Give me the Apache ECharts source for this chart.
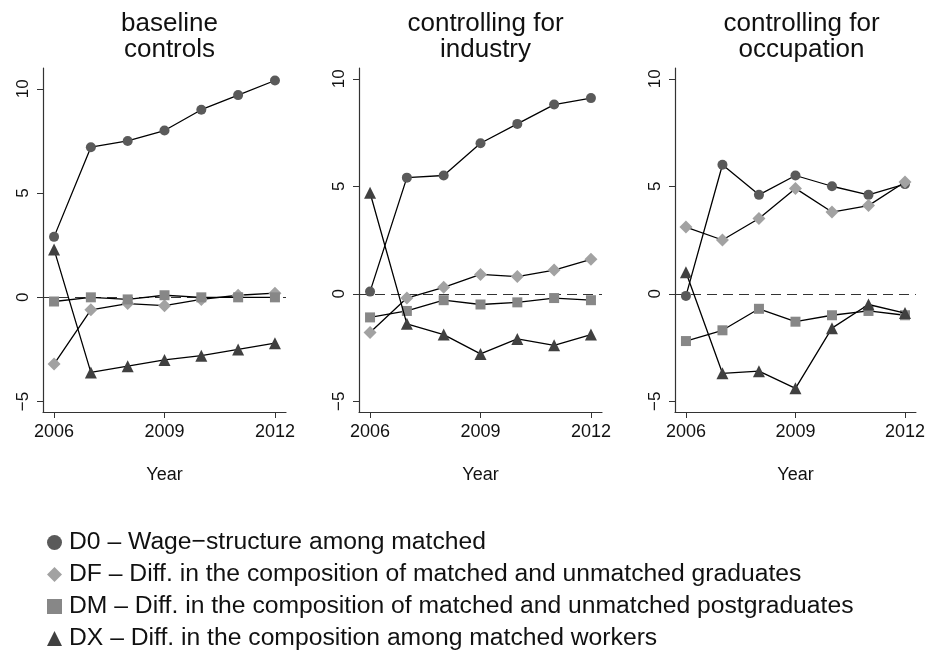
<!DOCTYPE html>
<html>
<head>
<meta charset="utf-8">
<script src="https://cdn.jsdelivr.net/npm/echarts@6/dist/echarts.min.js"></script>
<style>
  html, body { margin: 0; padding: 0; background: #fff; }
  #chart { width: 928px; height: 652px; }
</style>
</head>
<body>
<div id="chart"></div>
<script>
// panel data
const years = [2006, 2007, 2008, 2009, 2010, 2011, 2012];
const panelTitles = ['baseline\ncontrols', 'controlling for\nindustry', 'controlling for\noccupation'];
const seriesNames = [
  'D0 \u2013 Wage\u2212structure among matched',
  'DF \u2013 Diff. in the composition of matched and unmatched graduates',
  'DM \u2013 Diff. in the composition of matched and unmatched postgraduates',
  'DX \u2013 Diff. in the composition among matched workers'
];

// baseline controls
const baseD0 = [2.9, 7.2, 7.5, 8.0, 9.0, 9.7, 10.4];
const baseDF = [-3.2, -0.6, -0.3, -0.4, -0.1, 0.1, 0.2];
const baseDM = [-0.2, 0.0, -0.1, 0.1, 0.0, 0.0, 0.0];
const baseDX = [2.3, -3.6, -3.3, -3.0, -2.8, -2.5, -2.2];

// controlling for industry
const indD0 = [0.1, 5.4, 5.5, 7.0, 7.9, 8.8, 9.1];
const indDF = [-1.8, -0.2, 0.3, 0.9, 0.8, 1.1, 1.6];
const indDM = [-1.1, -0.8, -0.3, -0.5, -0.4, -0.2, -0.3];
const indDX = [4.7, -1.4, -1.9, -2.8, -2.1, -2.4, -1.9];

// controlling for occupation
const occD0 = [-0.1, 6.0, 4.6, 5.5, 5.0, 4.6, 5.1];
const occDF = [3.1, 2.5, 3.5, 4.9, 3.8, 4.1, 5.2];
const occDM = [-2.2, -1.7, -0.7, -1.3, -1.0, -0.8, -1.0];
const occDX = [1.0, -3.7, -3.6, -4.4, -1.6, -0.5, -0.9];

const yTicks = [-5, 0, 5, 10];
const xTicks = [2006, 2009, 2012];
const yMax = [11, 10.5, 10.5];
const yMin = -5.5;

const panels = [
  [baseD0, baseDF, baseDM, baseDX],
  [indD0, indDF, indDM, indDX],
  [occD0, occDF, occDM, occDX]
];

const symbols = ['circle', 'diamond', 'rect', 'triangle'];
const symbolSizes = [10, 13, 10, 12];
const symbolColors = ['#5a5a5a', '#a2a2a2', '#878787', '#404040'];

const font = 'Liberation Sans, Arial, Helvetica, sans-serif';
const gridLefts = [43, 359, 675];
const gridWidth = 243;

const chart = echarts.init(document.getElementById('chart'), null, { renderer: 'canvas' });

const grids = [], xAxes = [], yAxes = [], titles = [], series = [];

panels.forEach((panel, p) => {
  grids.push({ left: gridLefts[p], top: 68, width: gridWidth, height: 344 });
  titles.push({
    text: panelTitles[p],
    left: gridLefts[p] + gridWidth / 2,
    top: 6,
    textAlign: 'center',
    textStyle: { fontFamily: font, fontSize: 26, fontWeight: 'normal', color: '#111', lineHeight: 26 }
  });
  xAxes.push({
    type: 'value', gridIndex: p, min: 2005.7, max: 2012.3,
    name: 'Year', nameLocation: 'middle', nameGap: 54,
    nameTextStyle: { fontFamily: font, fontSize: 18, color: '#111' },
    axisLine: { show: true, onZero: false, lineStyle: { color: '#333', width: 1.2 } },
    axisTick: { show: true, length: 6, customValues: xTicks, lineStyle: { color: '#333' } },
    axisLabel: { customValues: xTicks, margin: 11, fontFamily: font, fontSize: 18, color: '#111',
      formatter: v => String(v) },
    splitLine: { show: false }
  });
  yAxes.push({
    type: 'value', gridIndex: p, min: yMin, max: yMax[p],
    axisLine: { show: true, lineStyle: { color: '#333', width: 1.2 } },
    axisTick: { show: true, length: 6, customValues: yTicks, lineStyle: { color: '#333' } },
    axisLabel: { customValues: yTicks, rotate: 90, margin: 11, fontFamily: font, fontSize: 17, color: '#111',
      formatter: v => (v < 0 ? '\u2212' + Math.abs(v) : String(v)) },
    splitLine: { show: false }
  });
  panel.forEach((vals, s) => {
    const item = {
      name: seriesNames[s],
      type: 'line',
      xAxisIndex: p,
      yAxisIndex: p,
      data: years.map((yr, i) => [yr, vals[i]]),
      symbol: symbols[s],
      symbolSize: symbolSizes[s],
      itemStyle: { color: symbolColors[s], borderWidth: 0 },
      lineStyle: { color: '#000', width: 1.3 },
      z: 3 + s,
      animation: false
    };
    if (s === 0) {
      item.markLine = {
        silent: true, symbol: 'none', label: { show: false },
        lineStyle: { color: '#333', type: [10, 6], width: 1.2 },
        data: [{ yAxis: 0 }],
        z: 1
      };
    }
    series.push(item);
  });
});

chart.setOption({
  animation: false,
  title: titles,
  grid: grids,
  xAxis: xAxes,
  yAxis: yAxes,
  legend: {
    orient: 'vertical',
    left: 42,
    top: 525,
    height: 200,
    itemGap: 7,
    itemWidth: 15,
    itemHeight: 15,
    textStyle: { fontFamily: font, fontSize: 24.7, color: '#111', padding: [0, 0, 0, 2] },
    data: seriesNames.map((n, i) => ({ name: n, icon: symbols[i], itemStyle: { color: symbolColors[i] } }))
  },
  series: series
});
</script>
</body>
</html>
